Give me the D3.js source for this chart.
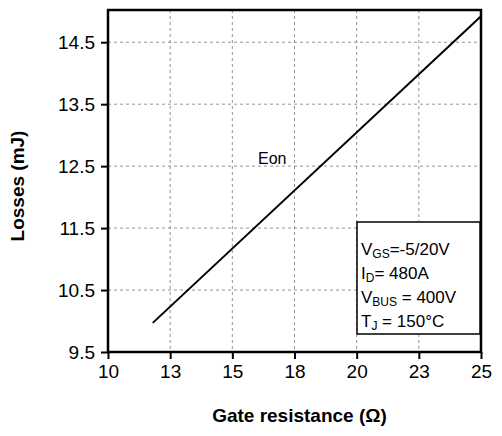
<!DOCTYPE html>
<html><head><meta charset="utf-8">
<script src="https://cdn.jsdelivr.net/npm/d3@7"></script>
<style>body{margin:0;background:#fff;} text{font-family:Arial,"Liberation Sans",sans-serif;}</style>
</head><body><svg id="c" width="502" height="436"></svg>
<script>
const xTicks = [10, 12.5, 15, 17.5, 20, 22.5, 25];
const xTickLabels = ["10", "13", "15", "18", "20", "23", "25"];
const yTicks = [9.5, 10.5, 11.5, 12.5, 13.5, 14.5];
const gateR = [11.8, 25];
const eon = [9.97, 14.92];
const condLines = ["V|GS|=-5/20V", "I|D|= 480A", "V|BUS| = 400V", "T|J| = 150°C"];

const svg = d3.select("#c");
const m = {l: 108, r: 481, t: 10, b: 352};
const x = d3.scaleLinear().domain([10, 25]).range([m.l, m.r]);
const y = d3.scaleLinear().domain([9.5, 15.02]).range([m.b, m.t]);

// grid
svg.selectAll(".gx").data(xTicks.slice(1, -1)).enter().append("line")
  .attr("x1", d => x(d)).attr("x2", d => x(d)).attr("y1", m.t).attr("y2", m.b)
  .attr("stroke", "#777").attr("stroke-dasharray", "3,3").attr("stroke-width", 0.8);
svg.selectAll(".gy").data(yTicks.slice(1)).enter().append("line")
  .attr("x1", m.l).attr("x2", m.r).attr("y1", d => y(d)).attr("y2", d => y(d))
  .attr("stroke", "#777").attr("stroke-dasharray", "3,3").attr("stroke-width", 0.8);

// axes
const xa = svg.append("g").attr("transform", `translate(0,${m.b})`)
  .call(d3.axisBottom(x).tickValues(xTicks).tickFormat((d, i) => xTickLabels[i]).tickSize(7).tickPadding(6));
const ya = svg.append("g").attr("transform", `translate(${m.l},0)`)
  .call(d3.axisLeft(y).tickValues(yTicks).tickFormat(d3.format(".1f")).tickSize(7).tickPadding(6));
[xa, ya].forEach(a => {
  a.select(".domain").remove();
  a.selectAll("line").attr("stroke", "#000").attr("stroke-width", 2);
  a.selectAll("text").attr("font-size", 19).attr("fill", "#000");
});
svg.append("rect").attr("x", m.l).attr("y", m.t).attr("width", m.r - m.l).attr("height", m.b - m.t)
  .attr("fill", "none").attr("stroke", "#000").attr("stroke-width", 2.5);

// data line
svg.append("path").datum(gateR.map((g, i) => [g, eon[i]]))
  .attr("d", d3.line().x(d => x(d[0])).y(d => y(d[1])))
  .attr("fill", "none").attr("stroke", "#000").attr("stroke-width", 2);
svg.append("text").attr("x", 258).attr("y", 164).attr("font-size", 16).text("Eon");

// conditions box
svg.append("rect").attr("x", 357).attr("y", 222).attr("width", 123).attr("height", 112)
  .attr("fill", "#fff").attr("stroke", "#000").attr("stroke-width", 1.5);
condLines.forEach((s, i) => {
  const [a, sub, b] = s.split("|");
  const t = svg.append("text").attr("x", 361).attr("y", 255 + i * 24).attr("font-size", 17);
  t.append("tspan").text(a);
  t.append("tspan").attr("font-size", 12).attr("dy", 3).text(sub);
  t.append("tspan").attr("dy", -3).text(b);
});

// titles
svg.append("text").attr("x", (m.l + m.r) / 2 + 5).attr("y", 422).attr("text-anchor", "middle")
  .attr("font-size", 19).attr("font-weight", "bold").text("Gate resistance (Ω)");
svg.append("text").attr("transform", `translate(24,${(m.t + m.b) / 2 + 5}) rotate(-90)`)
  .attr("text-anchor", "middle").attr("font-size", 19).attr("font-weight", "bold").text("Losses (mJ)");
</script></body></html>
